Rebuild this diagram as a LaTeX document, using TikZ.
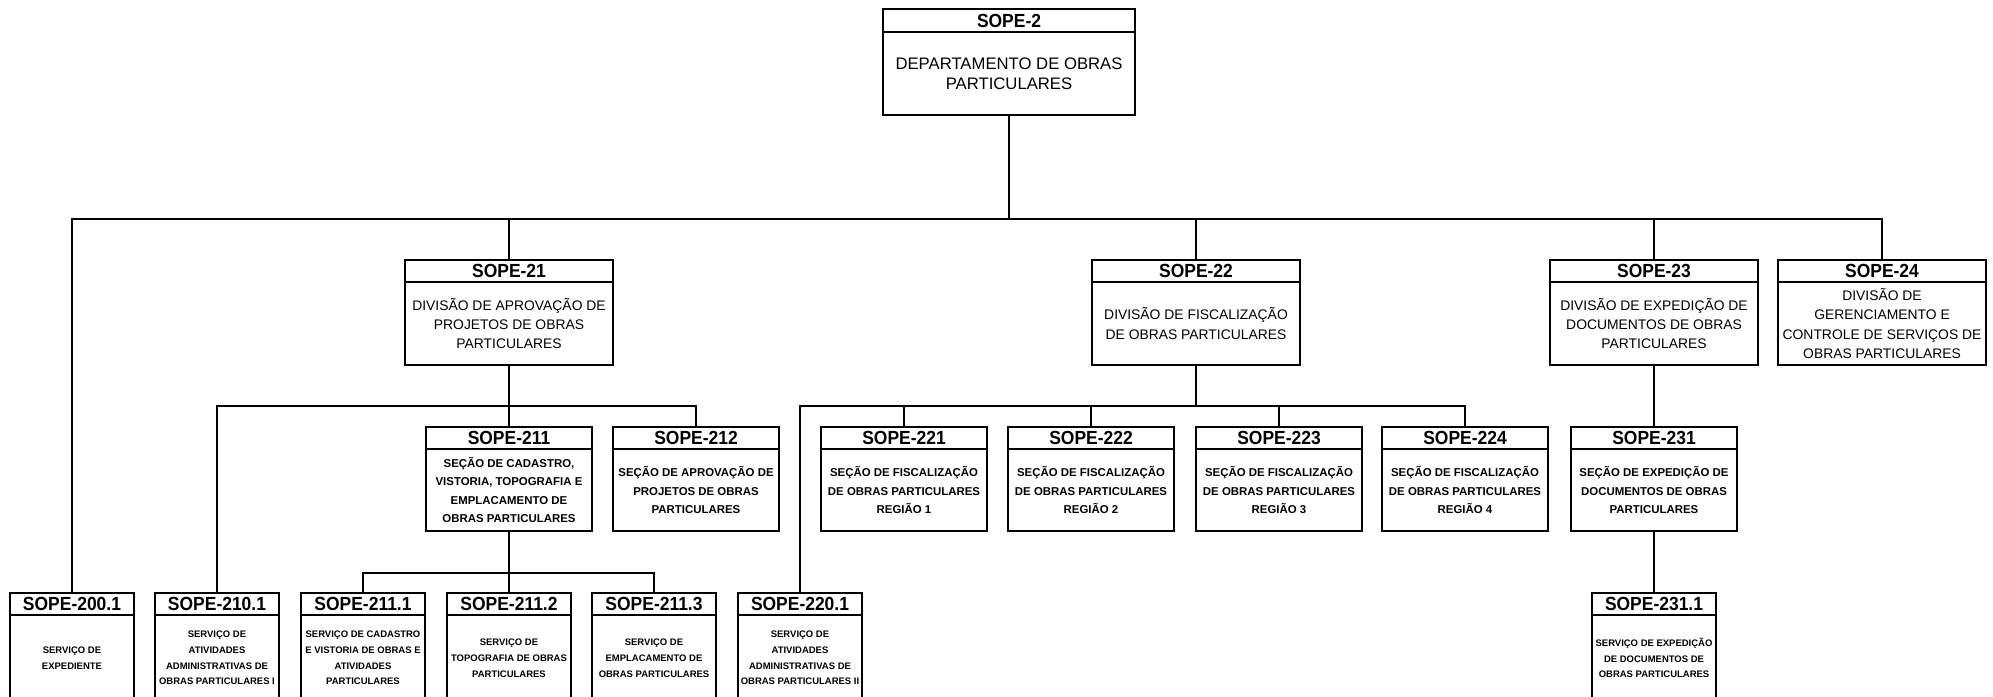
\documentclass[tikz,border=0pt]{standalone}
\usepackage{fontspec}
\setmainfont{Liberation Sans}
\newfontfamily\ttlfont[FakeStretch=0.92]{Liberation Sans}
\usetikzlibrary{positioning}

\begin{document}
\begin{tikzpicture}[x=0.02cm, y=-0.02cm,
    line/.style={line width=1.1pt},
    ttl/.style={draw, line width=1.1pt, anchor=north, inner sep=0pt, outer sep=0pt,
        minimum height=0.44cm, font=\ttlfont\bfseries\fontsize{10.8}{12}\selectfont},
    bdy/.style={draw, line width=1.1pt, inner sep=0pt, outer sep=0pt, align=center,
        below=0pt of #1},
    deptw/.style={minimum width=5.04cm},
    divw/.style={minimum width=4.17cm},
    secw/.style={minimum width=3.33cm},
    srvw/.style={minimum width=2.49cm},
    depttxt/.style={minimum height=1.66cm, font=\fontsize{9.5}{11.3}\selectfont},
    divtxt/.style={minimum height=1.66cm, font=\fontsize{7.9}{10.9}\selectfont},
    sectxt/.style={minimum height=1.64cm, font=\bfseries\fontsize{6.5}{10.4}\selectfont},
    srvtxt/.style={minimum height=1.72cm, font=\bfseries\fontsize{5.4}{9}\selectfont}]

    \useasboundingbox (0,0) rectangle (1993,696);
    \clip (0,0) rectangle (1993,696);

    % --- Bus levels ---
    \coordinate (bus1) at (0,219);
    \coordinate (bus2) at (0,406);
    \coordinate (bus4) at (0,573);

    % --- 1. Department ---
    \node[ttl, deptw, minimum height=0.46cm] (t2) at (1009,9) {SOPE-2};
    \node[bdy=t2, deptw, depttxt] (b2) {DEPARTAMENTO DE OBRAS\\PARTICULARES};

    % --- 2. Divisions ---
    \node[ttl, divw] (t21) at (509,260) {SOPE-21};
    \node[bdy=t21, divw, divtxt] (b21) {DIVISÃO DE APROVAÇÃO DE\\PROJETOS DE OBRAS\\PARTICULARES};
    \node[ttl, divw] (t22) at (1196,260) {SOPE-22};
    \node[bdy=t22, divw, divtxt] (b22) {DIVISÃO DE FISCALIZAÇÃO\\DE OBRAS PARTICULARES};
    \node[ttl, divw] (t23) at (1654,260) {SOPE-23};
    \node[bdy=t23, divw, divtxt] (b23) {DIVISÃO DE EXPEDIÇÃO DE\\DOCUMENTOS DE OBRAS\\PARTICULARES};
    \node[ttl, divw] (t24) at (1882,260) {SOPE-24};
    \node[bdy=t24, divw, divtxt] (b24) {DIVISÃO DE\\GERENCIAMENTO E\\CONTROLE DE SERVIÇOS DE\\OBRAS PARTICULARES};

    % --- 3. Sections ---
    \node[ttl, secw] (t211) at (509,427) {SOPE-211};
    \node[bdy=t211, secw, sectxt] (b211) {SEÇÃO DE CADASTRO,\\VISTORIA, TOPOGRAFIA E\\EMPLACAMENTO DE\\OBRAS PARTICULARES};
    \node[ttl, secw] (t212) at (696,427) {SOPE-212};
    \node[bdy=t212, secw, sectxt] (b212) {SEÇÃO DE APROVAÇÃO DE\\PROJETOS DE OBRAS\\PARTICULARES};
    \node[ttl, secw] (t221) at (904,427) {SOPE-221};
    \node[bdy=t221, secw, sectxt] (b221) {SEÇÃO DE FISCALIZAÇÃO\\DE OBRAS PARTICULARES\\REGIÃO 1};
    \node[ttl, secw] (t222) at (1091,427) {SOPE-222};
    \node[bdy=t222, secw, sectxt] (b222) {SEÇÃO DE FISCALIZAÇÃO\\DE OBRAS PARTICULARES\\REGIÃO 2};
    \node[ttl, secw] (t223) at (1279,427) {SOPE-223};
    \node[bdy=t223, secw, sectxt] (b223) {SEÇÃO DE FISCALIZAÇÃO\\DE OBRAS PARTICULARES\\REGIÃO 3};
    \node[ttl, secw] (t224) at (1465,427) {SOPE-224};
    \node[bdy=t224, secw, sectxt] (b224) {SEÇÃO DE FISCALIZAÇÃO\\DE OBRAS PARTICULARES\\REGIÃO 4};
    \node[ttl, secw] (t231) at (1654,427) {SOPE-231};
    \node[bdy=t231, secw, sectxt] (b231) {SEÇÃO DE EXPEDIÇÃO DE\\DOCUMENTOS DE OBRAS\\PARTICULARES};

    % --- 4. Services ---
    \node[ttl, srvw] (t2001) at (72,593) {SOPE-200.1};
    \node[bdy=t2001, srvw, srvtxt] (b2001) {SERVIÇO DE\\EXPEDIENTE};
    \node[ttl, srvw] (t2101) at (217,593) {SOPE-210.1};
    \node[bdy=t2101, srvw, srvtxt] (b2101) {SERVIÇO DE\\ATIVIDADES\\ADMINISTRATIVAS DE\\OBRAS PARTICULARES I};
    \node[ttl, srvw] (t2111) at (363,593) {SOPE-211.1};
    \node[bdy=t2111, srvw, srvtxt] (b2111) {SERVIÇO DE CADASTRO\\E VISTORIA DE OBRAS E\\ATIVIDADES\\PARTICULARES};
    \node[ttl, srvw] (t2112) at (509,593) {SOPE-211.2};
    \node[bdy=t2112, srvw, srvtxt] (b2112) {SERVIÇO DE\\TOPOGRAFIA DE OBRAS\\PARTICULARES};
    \node[ttl, srvw] (t2113) at (654,593) {SOPE-211.3};
    \node[bdy=t2113, srvw, srvtxt] (b2113) {SERVIÇO DE\\EMPLACAMENTO DE\\OBRAS PARTICULARES};
    \node[ttl, srvw] (t2201) at (800,593) {SOPE-220.1};
    \node[bdy=t2201, srvw, srvtxt] (b2201) {SERVIÇO DE\\ATIVIDADES\\ADMINISTRATIVAS DE\\OBRAS PARTICULARES II};
    \node[ttl, srvw] (t2311) at (1654,593) {SOPE-231.1};
    \node[bdy=t2311, srvw, srvtxt] (b2311) {SERVIÇO DE EXPEDIÇÃO\\DE DOCUMENTOS DE\\OBRAS PARTICULARES};

    % --- 5. Connectors ---
    \draw[line] (b2.south) -- (b2.south |- bus1);
    \draw[line] (t2001.north) |- (bus1 -| t24.north) -- (t24.north);
    \foreach \n in {t21,t22,t23}
        \draw[line] (\n.north) -- (\n.north |- bus1);

    \draw[line] (b21.south) -- (t211.north);
    \draw[line] (t2101.north) |- (bus2 -| t212.north) -- (t212.north);

    \draw[line] (b22.south) -- (b22.south |- bus2);
    \draw[line] (t2201.north) |- (bus2 -| t224.north) -- (t224.north);
    \foreach \n in {t221,t222,t223}
        \draw[line] (\n.north) -- (\n.north |- bus2);

    \draw[line] (b211.south) -- (t2112.north);
    \draw[line] (t2111.north) |- (bus4 -| t2113.north) -- (t2113.north);

    \draw[line] (b23.south) -- (t231.north);
    \draw[line] (b231.south) -- (t2311.north);

\end{tikzpicture}
\end{document}
